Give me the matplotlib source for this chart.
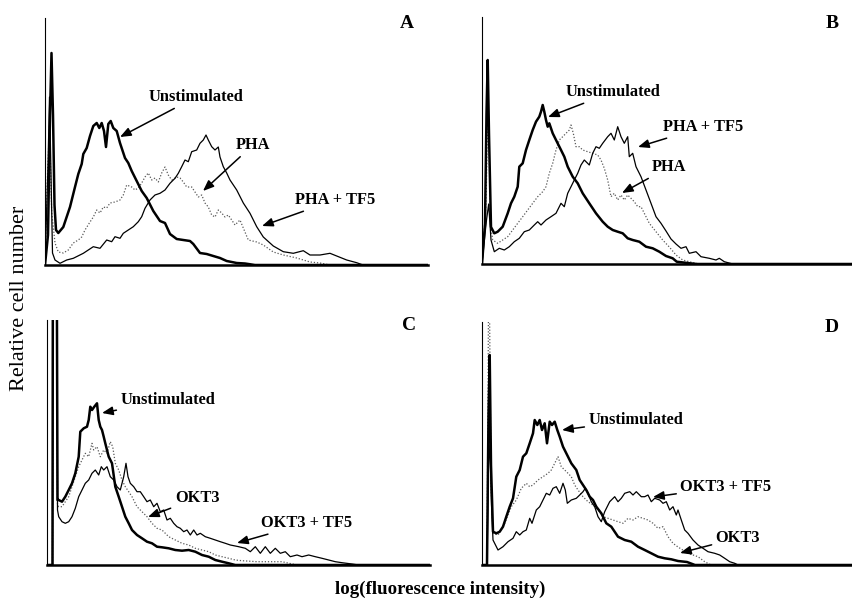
import numpy as np
import matplotlib
matplotlib.use('Agg')
import matplotlib.pyplot as plt

plt.rcParams['font.family'] = ['Liberation Serif', 'DejaVu Serif']

# x = channel (log fluorescence), y = relative cell number

# Panel A
a_unstim_x = [0, 3, 5, 6.5, 8, 9.5, 11, 13.3, 18.3, 25, 30, 33.3, 36.7, 38.3, 41.7, 45, 48.3, 51.7, 54.3, 56.7, 59, 61, 63.3, 65.7, 68.3, 71.7, 75, 80, 83.3, 86.7, 91.7, 96.7, 101.7, 108.3, 115, 120, 125, 131.7, 138.3, 145, 148.3, 155, 161.7, 168.3, 175, 181.7, 191.7, 200, 210, 383]
a_unstim_y = [0, 30, 150, 212, 150, 60, 35, 32, 38, 58, 78, 91, 101, 111, 117, 129, 139, 142, 137, 142, 134, 118, 141, 144, 137, 134, 122, 107, 102, 94, 84, 74, 67, 54, 44, 42, 31, 26, 25, 24, 21, 12, 11, 9, 7, 4, 2, 1.5, 0, 0]
a_tf5_x = [0, 3, 4.5, 6, 7.5, 10, 15, 21.7, 28.3, 38.3, 48.3, 55, 61.7, 66.7, 70, 75, 78.3, 83.3, 88.3, 93.3, 96.7, 100, 105, 110, 115, 120, 125, 130, 133.3, 136.7, 140, 143.3, 146.7, 151.7, 155, 158.3, 161, 163.3, 166.7, 170, 173.3, 175, 178.3, 181.7, 185, 191.7, 198.3, 205, 211.7, 218.3, 228.3, 238.3, 248.3, 258.3, 265, 275, 285, 291.7, 301.7, 311.7, 318, 383]
a_tf5_y = [0, 100, 168, 90, 12, 5, 1.7, 5, 6.7, 11.7, 18.3, 16.7, 25, 23.3, 28.3, 26.7, 31.7, 35, 38.3, 43.3, 48.3, 56.7, 65, 70, 71.7, 75, 81.7, 86.7, 91.7, 98.3, 105, 103.3, 113.3, 115, 121.7, 125, 130, 125, 118.3, 115, 118, 108, 98.3, 92, 85, 75, 62, 51.7, 38.3, 28, 19, 13.3, 11.7, 14.3, 10, 10, 11.7, 9, 5, 2.3, 0, 0]
a_pha_x = [0, 2.5, 4.5, 6.7, 8.3, 10, 13.3, 18.3, 23.3, 28.3, 33.3, 36.7, 40, 45, 48.3, 51.7, 55, 58.3, 61.7, 65, 70, 75, 78.3, 81.7, 86.7, 90, 93.3, 96.7, 100, 103.3, 106.7, 110, 113.3, 116.7, 120, 123.3, 126.7, 131.7, 135, 138.3, 141.7, 146.7, 150, 153.3, 156.7, 160, 163.3, 166.7, 170, 173.3, 176.7, 180, 183.3, 186.7, 190, 195, 198.3, 203.3, 211.7, 218.3, 228.3, 238.3, 251.7, 265, 275, 285, 383]
a_pha_y = [0, 90, 140, 52, 38, 22, 13, 12, 15, 22, 25, 28, 35, 43, 48, 55, 52, 58, 57, 62, 63, 65, 70, 80, 78, 75, 77, 82, 88, 92, 85, 87, 83, 92, 98, 90, 85, 88, 87, 83, 78, 78, 73, 68, 70, 62, 58, 50, 48, 55, 52, 48, 50, 45, 40, 45, 37, 25, 23, 20, 13, 10, 7, 3, 2, 0, 0]

# Panel B
b_unstim_x = [0, 3, 4.5, 5.7, 7, 9, 12.3, 15.7, 20.7, 25.7, 29, 32.3, 35.7, 37.3, 40.7, 44, 47.3, 50.7, 54, 57.3, 59, 60.7, 62.3, 64, 65.7, 67.3, 70.7, 74, 79, 82.3, 85.7, 90.7, 95.7, 100.7, 107.3, 114, 120.7, 125.7, 130.7, 135.7, 140.7, 145.7, 150.7, 157.3, 164, 170.7, 177.3, 184, 190.7, 194.7, 208, 215, 371]
b_unstim_y = [0, 40, 150, 204, 130, 37, 30.7, 32.3, 37.3, 50.7, 60.7, 67.3, 77.3, 97.3, 100.7, 114, 124, 134, 142.3, 147.3, 152.3, 159, 152.3, 144, 137.3, 140.7, 130.7, 124, 114, 107.3, 97.3, 87.3, 80.7, 70.7, 60.7, 50.7, 42.3, 37.3, 34, 32.3, 30.7, 25.7, 24, 22.3, 17.3, 15.7, 12.3, 8, 5.7, 2.3, 0.7, 0, 0]
b_tf5_x = [0, 3, 4.5, 6.7, 9, 12.3, 17.3, 22.3, 27.3, 32.3, 37.3, 42.3, 47.3, 52.3, 55.7, 59, 64, 69, 74, 79, 82.3, 85.7, 89, 92.3, 95.7, 99, 102.3, 107.3, 110.7, 114, 117.3, 120.7, 125.7, 129, 132.3, 135.7, 139, 142.3, 145.7, 147.3, 150.7, 154, 159, 164, 169, 174, 179, 184, 189, 194, 199, 204, 207.3, 214, 219, 227.3, 234, 237.3, 242.3, 250.7, 371]
b_tf5_y = [0, 30, 44, 60, 24, 12.3, 15.7, 14, 17.3, 22.3, 25.7, 32.3, 34, 39, 42.3, 39, 44, 47.3, 50.7, 60.7, 57.3, 70.7, 77.3, 84, 90.7, 99, 104, 99, 110.7, 117.3, 115.7, 120.7, 127.3, 130.7, 124, 137.3, 127.3, 120.7, 127.3, 107.3, 110.7, 97.3, 87.3, 74, 60.7, 47.3, 40.7, 33, 25, 20, 15.7, 17.3, 10.7, 12.3, 7.3, 5.7, 4, 5.7, 2.3, 0, 0]
b_pha_x = [0, 4, 6, 7, 8.5, 10.7, 15.7, 20.7, 25.7, 30.7, 35.7, 40.7, 45.7, 50.7, 55.7, 60.7, 64, 67.3, 70.7, 74, 77.3, 80.7, 84, 87.3, 89, 91.3, 94, 97.3, 100.7, 105.7, 110.7, 115.7, 119, 122.3, 125.7, 129, 132.3, 135.7, 139, 142.3, 145.7, 149, 152.3, 155.7, 159, 162.3, 167.3, 174, 180.7, 187.3, 194, 200.7, 207.3, 217, 371]
b_pha_y = [0, 60, 164, 120, 40, 24, 20.7, 24, 27.3, 34, 40.7, 47.3, 54, 60.7, 67.3, 72.3, 77.3, 90.7, 100.7, 114, 124, 127.3, 130.7, 134, 139, 130.7, 117.3, 117.3, 114, 112.3, 110.7, 109, 104, 95.7, 84, 67.3, 70.7, 64, 69, 64, 69, 65.7, 62.3, 57.3, 57.3, 50.7, 40.7, 32.3, 24, 17, 9, 4, 2.3, 0, 0]

# Panel C
c_unstim_x = [0, 5.5, 6, 9.5, 10.5, 11.7, 15, 18.3, 21.7, 25, 28.3, 31.7, 33.3, 36.7, 40, 41.7, 43.3, 45, 47.3, 50, 51.7, 53.3, 55, 56.7, 58.3, 61.7, 65, 68.3, 71.7, 75, 78.3, 81.7, 85, 90, 95, 100, 105, 110, 115, 121.7, 128.3, 135, 141.7, 148.3, 155, 161.7, 168.3, 175, 181.7, 188.3, 383]
c_unstim_y = [0, 0, 400, 400, 65, 65, 63.3, 68.3, 75, 81.7, 91.7, 108.3, 133.3, 136.7, 138.3, 145, 158.3, 155, 158.3, 161.7, 145, 138.3, 135, 128.3, 121.7, 108.3, 101.7, 78.3, 68.3, 58.3, 48.3, 41.7, 35, 30, 26.7, 23.3, 21.7, 18.3, 17.7, 16.7, 15, 14.3, 15, 13.3, 10, 8.3, 5, 3.3, 1.7, 0, 0]
c_tf5_x = [0, 5.5, 6, 9.5, 10.5, 11.7, 15, 18.3, 21.7, 25, 28.3, 31.7, 35, 38.3, 41.7, 45, 48.3, 51.7, 54.3, 56.7, 60, 63.3, 66.7, 70, 73.3, 76.7, 79, 81, 83.3, 86.7, 90, 93.3, 96.7, 100, 103.3, 106.7, 110, 113.3, 116.7, 120, 123.3, 126.7, 130, 133.3, 136.7, 140, 143.3, 146.7, 150, 153.3, 158.3, 163.3, 168.3, 173.3, 178.3, 183.3, 188.3, 191.7, 198.3, 203.3, 208.3, 213.3, 218.3, 223.3, 228.3, 233.3, 238.3, 243.3, 250, 255, 261.7, 268.3, 275, 281.7, 288.3, 295, 305, 311.7, 383]
c_tf5_y = [0, 0, 400, 400, 55, 48.3, 43.3, 41.7, 43.3, 48.3, 56.7, 68.3, 75, 81.7, 85, 91.7, 95, 90, 98.3, 95, 98.3, 88.3, 85, 78.3, 75, 88.3, 101.7, 88.3, 81.7, 78.3, 73.3, 73.3, 68.3, 63.3, 65, 58.3, 61.7, 53.3, 55, 45, 46.7, 41.7, 38.3, 36.7, 33.3, 35, 30, 35, 30, 31.7, 28.3, 26.7, 25, 23.3, 21.7, 20, 19, 18.3, 16.7, 13.3, 18.3, 11.7, 18.3, 11.7, 16.7, 11.7, 13.3, 8.3, 10, 8.3, 10, 8.3, 6.7, 5, 3.3, 2.3, 1, 0, 0]
c_okt3_x = [0, 5.5, 6, 9.5, 10.5, 11.7, 15, 18.3, 21.7, 25, 28.3, 31.7, 35, 38.3, 41.7, 45, 46.7, 50, 53.3, 56.7, 60, 63.3, 65.7, 68.3, 71.7, 75, 78.3, 81.7, 85, 90, 95, 100, 105, 110, 115, 121.7, 128.3, 135, 141.7, 148.3, 155, 161.7, 168.3, 175, 181.7, 188.3, 195, 210, 235, 250, 383]
c_okt3_y = [0, 0, 400, 400, 60, 58.3, 58.3, 63.3, 68.3, 78.3, 88.3, 98.3, 105, 111.7, 108.3, 121.7, 115, 118.3, 108.3, 115, 111.7, 123.3, 118.3, 101.7, 95, 85, 78.3, 73.3, 68.3, 58.3, 53.3, 48.3, 41.7, 36.7, 35, 28.3, 25, 21.7, 20, 16.7, 15, 13.3, 10, 8.3, 6.7, 5, 4.3, 3.3, 3.3, 0, 0]

# Panel D
d_unstim_x = [0, 5, 6.5, 7.7, 9, 11, 14.3, 17.7, 21, 24.3, 27.7, 31, 34.3, 37.7, 41, 44.3, 47.7, 51, 52.7, 55.3, 57.7, 60, 62.7, 65, 67.7, 70, 72.7, 75.3, 77.7, 81, 84.3, 89.3, 94.3, 97.7, 101, 104.3, 107.7, 111, 114.3, 119.3, 124.3, 129.3, 136, 142.7, 149.3, 156, 162.7, 169.3, 176, 182.7, 189.3, 196, 205, 213, 371]
d_unstim_y = [0, 0, 150, 210, 100, 33.3, 31.7, 33.3, 38.3, 48.3, 58.3, 66.7, 88.3, 95, 108.3, 111.7, 121.7, 131.7, 145, 140, 145, 135, 141.7, 121.7, 143.3, 140, 143.3, 135, 128.3, 118.3, 111.7, 101.7, 95, 85, 80, 75, 68.3, 65, 58.3, 51.7, 41.7, 38.3, 28.3, 25, 23.3, 18.3, 15, 11.7, 8.3, 6.7, 5.7, 4, 3, 0, 0]
d_tf5_x = [0, 5, 6.5, 8, 9.5, 11, 16, 21, 26, 31, 34.3, 37.7, 41, 44.3, 47.7, 50, 54.3, 57.7, 61, 64.3, 67.7, 71, 74.3, 77.7, 81, 83.3, 85.3, 89.3, 94.3, 97.7, 101, 103.3, 106, 109.3, 112.7, 116, 119.3, 122.7, 127.7, 132.7, 136, 139.3, 142.7, 147.7, 151, 154.3, 159.3, 162.7, 166, 169.3, 172.7, 177.7, 181, 184.3, 187.7, 191, 194.3, 196, 199.3, 202.7, 206, 211, 216, 221, 226, 232.7, 237.7, 242.7, 247.7, 252.7, 256, 371]
d_tf5_y = [0, 0, 100, 120, 60, 25, 15, 18.3, 23.3, 26.7, 33.3, 30, 33.3, 35, 46.7, 41.7, 55, 58.3, 65, 71.7, 70, 76.7, 78.3, 71.7, 81.7, 75, 61.7, 65, 66.7, 70, 73.3, 76.7, 71.7, 63.3, 58.3, 48.3, 43.3, 53.3, 63.3, 68.3, 63.3, 66.7, 71.7, 73.3, 70, 73.3, 68.3, 68.3, 70, 63.3, 66.7, 65, 61.7, 63.3, 55, 58.3, 50, 55, 45, 35, 31.7, 25, 20, 16.7, 13.3, 11.7, 10, 6.7, 3.3, 1.7, 0, 0]
d_okt3_x = [0, 5, 6.5, 7.5, 9, 11, 16, 22.7, 29.3, 34.3, 39.3, 44.3, 47.7, 51, 56, 61, 66, 69.3, 72.7, 76, 79.3, 82.7, 86, 89.3, 92.7, 96, 101, 106, 111, 116, 121, 126, 131, 136, 141, 146, 151, 156, 161, 166, 171, 176, 181, 186, 191, 196, 206, 216, 222.7, 229, 371]
d_okt3_y = [0, 0, 260, 260, 80, 31.7, 30, 41.7, 58.3, 65, 76.7, 81.7, 78.3, 80, 85, 88.3, 91.7, 95, 101.7, 108.3, 98.3, 95, 91.7, 88.3, 80, 75, 68.3, 63.3, 60, 55, 48.3, 46.7, 45, 43.3, 41.7, 46.7, 45, 48.3, 46.7, 45, 41.7, 36.7, 38.3, 28.3, 21.7, 18, 11.7, 8.3, 3.3, 0, 0]

fig = plt.figure(figsize=(8.53, 6.01), dpi=100)

def panel(rect, xmax, ymax, curves, labels, letter):
    ax = fig.add_axes(rect)
    ax.set_xlim(0, xmax)
    ax.set_ylim(0, ymax)
    # dotted first, then thin, then thick on top
    ax.plot(curves[2][0], curves[2][1], color='0.35', lw=0.9, ls=(0, (1, 1.5)))
    ax.plot(curves[1][0], curves[1][1], color='black', lw=0.9)
    ax.plot(curves[0][0], curves[0][1], color='black', lw=1.8)
    for side in ['top', 'right']:
        ax.spines[side].set_visible(False)
    ax.spines['left'].set_linewidth(0.8)
    ax.spines['bottom'].set_linewidth(1.8)
    ax.set_xticks([])
    ax.set_yticks([])
    for txt, tpos, tip in labels:
        ax.annotate(txt, xy=tip, xytext=tpos, ha='center', va='center',
                    fontsize=11.8, fontweight='bold',
                    arrowprops=dict(arrowstyle='-|>,head_length=0.55,head_width=0.22',
                                    color='black', lw=1.1, shrinkA=1, shrinkB=0))
    ax.text(xmax - 21, ymax - 6, letter, fontsize=14, fontweight='bold',
            ha='center', va='center')
    return ax

panel([45/853, 1-265/601, 383/853, 247/601], 383, 247,
      [(a_unstim_x, a_unstim_y), (a_tf5_x, a_tf5_y), (a_pha_x, a_pha_y)],
      [('Unstimulated', (151, 168), (75, 128)),
       ('PHA', (208, 120), (158, 74)),
       ('PHA + TF5', (290, 65), (217, 39))], 'A')

panel([482/853, 1-264/601, 371/853, 247/601], 371, 247,
      [(b_unstim_x, b_unstim_y), (b_tf5_x, b_tf5_y), (b_pha_x, b_pha_y)],
      [('Unstimulated', (131, 172), (66, 147)),
       ('PHA + TF5', (221, 137), (156, 117)),
       ('PHA', (187, 97), (140, 71))], 'B')

panel([47/853, 1-565/601, 383/853, 245/601], 383, 245,
      [(c_unstim_x, c_unstim_y), (c_tf5_x, c_tf5_y), (c_okt3_x, c_okt3_y)],
      [('Unstimulated', (121, 165), (55, 152)),
       ('OKT3', (150, 67), (101, 48)),
       ('OKT3 + TF5', (260, 42), (190, 22))], 'C')

panel([482/853, 1-565/601, 371/853, 243/601], 371, 243,
      [(d_unstim_x, d_unstim_y), (d_tf5_x, d_tf5_y), (d_okt3_x, d_okt3_y)],
      [('Unstimulated', (154, 145), (80, 135)),
       ('OKT3 + TF5', (244, 78), (171, 68)),
       ('OKT3', (256, 27), (198, 12))], 'D')

fig.text(20/853, 1-298/601, 'Relative cell number', rotation=90,
         ha='center', va='center', fontsize=16)
fig.text(440/853, 1-589/601, 'log(fluorescence intensity)',
         ha='center', va='center', fontsize=13.6, fontweight='bold')

plt.savefig('out.png', dpi=100)
